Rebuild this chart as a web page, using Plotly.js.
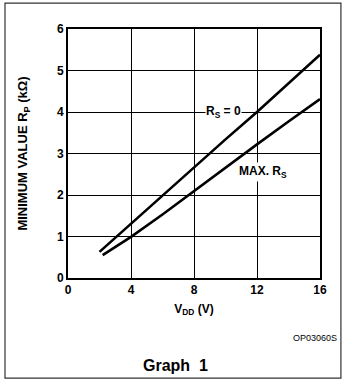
<!DOCTYPE html>
<html>
<head>
<meta charset="utf-8">
<script src="https://cdn.plot.ly/plotly-3.0.1.min.js"></script>
<style>
html,body{margin:0;padding:0;background:#fff;}
#chart{width:343px;height:382px;}
</style>
</head>
<body>
<div id="chart"></div>
<script>
// V_DD (V) and minimum R_P (kΩ)
const vddRs0 = [2, 4, 6, 8, 10, 12, 14, 16];
const rpRs0  = [0.63, 1.31, 1.99, 2.67, 3.34, 4.0, 4.69, 5.38];
const vddMax = [2.2, 4, 6, 8, 10, 12, 14, 16];
const rpMax  = [0.55, 0.99, 1.53, 2.1, 2.66, 3.22, 3.77, 4.31];
const xTicks = [0, 4, 8, 12, 16];
const yTicks = [0, 1, 2, 3, 4, 5, 6];
const seriesNames = ['R<sub>S</sub> = 0', 'MAX. R<sub>S</sub>'];

const FONT = 'Liberation Sans, Arial, Helvetica, sans-serif';

const traces = [
  {x: vddRs0, y: rpRs0, mode: 'lines', name: seriesNames[0],
   line: {color: '#000', width: 2.6}, hoverinfo: 'skip'},
  {x: vddMax, y: rpMax, mode: 'lines', name: seriesNames[1],
   line: {color: '#000', width: 2.6}, hoverinfo: 'skip'}
];

const layout = {
  width: 343, height: 382,
  margin: {l: 68, r: 23, t: 29, b: 104},
  paper_bgcolor: '#fff', plot_bgcolor: '#fff',
  showlegend: false,
  font: {family: FONT, color: '#000'},
  xaxis: {
    range: [0, 16], tickvals: xTicks, ticktext: xTicks.map(String),
    showgrid: true, gridcolor: '#000', gridwidth: 1,
    zeroline: false, showline: true, mirror: true, linecolor: '#000', linewidth: 2,
    ticks: '', fixedrange: true,
    tickfont: {family: FONT, size: 12, weight: 'bold', color: '#000'},
    title: {text: 'V<sub>DD</sub> (V)', standoff: 8,
            font: {family: FONT, size: 12, weight: 'bold', color: '#000'}}
  },
  yaxis: {
    range: [0, 6], tickvals: yTicks, ticktext: yTicks.map(String),
    showgrid: true, gridcolor: '#000', gridwidth: 1,
    zeroline: false, showline: true, mirror: true, linecolor: '#000', linewidth: 2,
    ticks: '', fixedrange: true,
    tickfont: {family: FONT, size: 12, weight: 'bold', color: '#000'},
    title: {text: 'MINIMUM VALUE R<sub>P</sub> (kΩ)', standoff: 26,
            font: {family: FONT, size: 13, weight: 'bold', color: '#000'}}
  },
  annotations: [
    {x: 9.85, y: 4, xref: 'x', yref: 'y', text: seriesNames[0], showarrow: false,
     bgcolor: '#fff', borderpad: 0,
     font: {family: FONT, size: 12, weight: 'bold', color: '#000'}},
    {x: 12.4, y: 2.56, xref: 'x', yref: 'y', text: seriesNames[1], showarrow: false,
     bgcolor: '#fff', borderpad: 1,
     font: {family: FONT, size: 12, weight: 'bold', color: '#000'}},
    {x: 1.075, y: -0.241, xref: 'paper', yref: 'paper', text: 'OP03060S', showarrow: false,
     xanchor: 'right', yanchor: 'middle',
     font: {family: FONT, size: 9, color: '#000'}},
    {x: 0.425, y: -0.352, xref: 'paper', yref: 'paper', text: 'Graph  1', showarrow: false,
     xanchor: 'center', yanchor: 'middle',
     font: {family: FONT, size: 16, weight: 'bold', color: '#000'}}
  ],
  shapes: [
    {type: 'rect', xref: 'paper', yref: 'paper',
     x0: -0.25, x1: 1.083, y0: -0.402, y1: 1.104,
     line: {color: '#333', width: 1.2}, fillcolor: 'rgba(0,0,0,0)'}
  ]
};

Plotly.newPlot('chart', traces, layout, {displayModeBar: false, staticPlot: true});
</script>
</body>
</html>
